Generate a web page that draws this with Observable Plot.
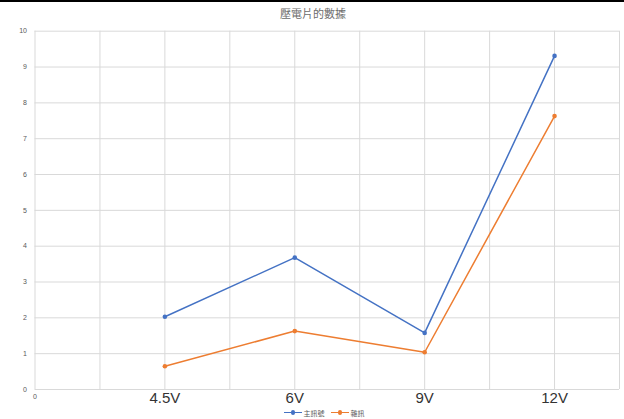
<!DOCTYPE html>
<html>
<head>
<meta charset="utf-8">
<script src="https://cdn.jsdelivr.net/npm/d3@7"></script>
<script src="https://cdn.jsdelivr.net/npm/@observablehq/plot@0.6"></script>
<style>
  html, body { margin: 0; padding: 0; background: #fff; }
  body { width: 624px; height: 419px; overflow: hidden; border-top: 2px solid #000; box-sizing: border-box;
         font-family: "Noto Sans CJK TC", "Noto Sans", sans-serif; }
  #title { height: 20px; line-height: 22px; text-align: center; font-size: 11px; color: #6b6b6b; padding-left: 2px; }
  #legend { height: 13px; display: flex; justify-content: center; align-items: center; gap: 6px;
            font-size: 7px; color: #595959; padding-left: 24px; }
  .key { display: flex; align-items: center; gap: 2px; }
  .swatch { position: relative; width: 18px; height: 1.5px; }
  .swatch::after { content: ""; position: absolute; left: 7px; top: -1.5px; width: 4.5px; height: 4.5px; border-radius: 50%; background: inherit; }
  #chart svg { overflow: visible; }
</style>
</head>
<body>
<div id="title">壓電片的數據</div>
<div id="chart"></div>
<div id="legend"></div>
<script>
// Voltage steps along the x axis and the two measured series
const categories = ["4.5V", "6V", "9V", "12V"];
const signal = [2.03, 3.68, 1.58, 9.31];   // 主訊號
const noise  = [0.65, 1.63, 1.04, 7.63];   // 雜訊
const seriesNames = ["主訊號", "雜訊"];
const seriesColors = ["#4472C4", "#ED7D31"];
const yTicks = [0, 1, 2, 3, 4, 5, 6, 7, 8, 9, 10];

// each voltage sits on every second grid column of a 0–9 axis
const slot = i => 2 * (i + 1);
const rows = [];
categories.forEach((c, i) => {
  rows.push({series: seriesNames[0], x: slot(i), v: signal[i]});
  rows.push({series: seriesNames[1], x: slot(i), v: noise[i]});
});
const gridCols = d3.range(0, 2 * categories.length + 2);

const chart = Plot.plot({
  width: 624,
  height: 384,
  marginLeft: 34.5,
  marginRight: 5,
  marginTop: 8.7,
  marginBottom: 17,
  style: {fontFamily: "'Liberation Sans', 'Noto Sans', sans-serif", background: "#fff"},
  x: {domain: [0, gridCols[gridCols.length - 1]], axis: null},
  y: {domain: [0, 10], axis: null},
  color: {domain: seriesNames, range: seriesColors},
  marks: [
    Plot.gridX(gridCols, {stroke: "#d9d9d9", strokeOpacity: 1, strokeWidth: 1}),
    Plot.gridY(yTicks, {stroke: "#d9d9d9", strokeOpacity: 1, strokeWidth: 1}),
    Plot.axisY(yTicks, {label: null, tickSize: 0, tickPadding: 8, fontSize: 7, fill: "#595959", textAnchor: "end"}),
    Plot.axisX([0], {label: null, tickSize: 0, tickPadding: 5, fontSize: 7, fill: "#595959"}),
    Plot.text(categories, {
      x: (d, i) => slot(i), frameAnchor: "bottom", dy: 8.5, lineAnchor: "middle",
      text: d => d, fontSize: 15, fill: "#333"
    }),
    Plot.line(rows, {x: "x", y: "v", stroke: "series", strokeWidth: 1.5, z: "series"}),
    Plot.dot(rows, {x: "x", y: "v", fill: "series", r: 2.3, stroke: null})
  ]
});
document.getElementById("chart").append(chart);

const legend = d3.select("#legend");
seriesNames.forEach((name, i) => {
  const k = legend.append("div").attr("class", "key");
  k.append("div").attr("class", "swatch").style("background", seriesColors[i]);
  k.append("span").text(name);
});
</script>
</body>
</html>
